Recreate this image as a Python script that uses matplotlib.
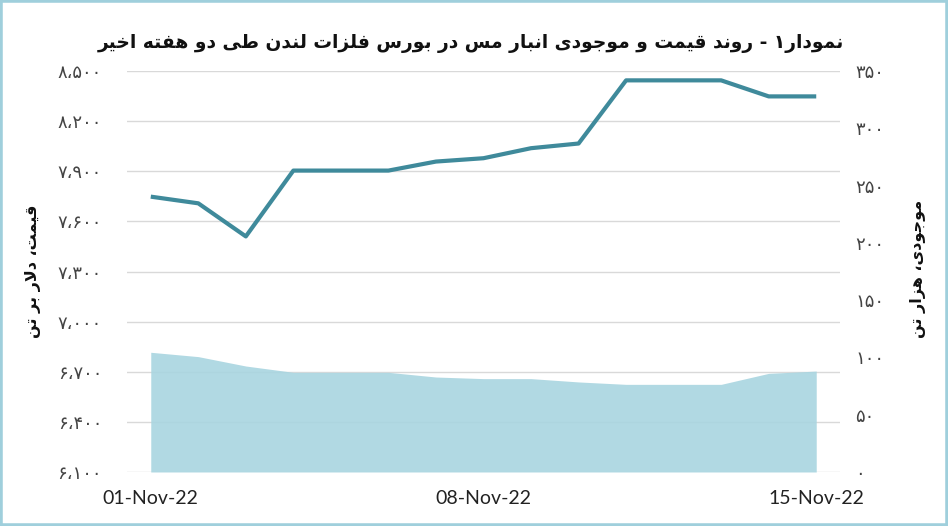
import matplotlib
matplotlib.use('Agg')
import matplotlib.pyplot as plt
from matplotlib.patches import Rectangle
from matplotlib.ticker import FixedLocator, FuncFormatter

# ---------------- data ----------------
dates = ['01-Nov-22', '02-Nov-22', '03-Nov-22', '04-Nov-22', '05-Nov-22',
         '06-Nov-22', '07-Nov-22', '08-Nov-22', '09-Nov-22', '10-Nov-22',
         '11-Nov-22', '12-Nov-22', '13-Nov-22', '14-Nov-22', '15-Nov-22']
price = [7748, 7708, 7510, 7904, 7904, 7904, 7958, 7978, 8038, 8066,
         8444, 8444, 8444, 8348, 8348]
stock = [104.5, 100.7, 92.5, 87, 87, 87, 82.9, 81.5, 81.5, 78.6,
         76.5, 76.5, 76.5, 86.1, 88.1]
shown_dates = ['01-Nov-22', '08-Nov-22', '15-Nov-22']
price_ticks = [6100, 6400, 6700, 7000, 7300, 7600, 7900, 8200, 8500]
stock_ticks = [0, 50, 100, 150, 200, 250, 300, 350]
title_text = 'نمودار۱ - روند قیمت و موجودی انبار مس در بورس فلزات لندن طی دو هفته اخیر'
left_label = 'قیمت، دلار بر تن'
right_label = 'موجودی، هزار تن'

# ------------- minimal Persian shaping (matplotlib has no text shaping) -------------
_PF = {
    'ا': (0xFE8D, 2), 'ب': (0xFE8F, 4), 'ت': (0xFE95, 4), 'ث': (0xFE99, 4),
    'ج': (0xFE9D, 4), 'ح': (0xFEA1, 4), 'خ': (0xFEA5, 4), 'د': (0xFEA9, 2),
    'ذ': (0xFEAB, 2), 'ر': (0xFEAD, 2), 'ز': (0xFEAF, 2), 'س': (0xFEB1, 4),
    'ش': (0xFEB5, 4), 'ص': (0xFEB9, 4), 'ض': (0xFEBD, 4), 'ط': (0xFEC1, 4),
    'ظ': (0xFEC5, 4), 'ع': (0xFEC9, 4), 'غ': (0xFECD, 4), 'ف': (0xFED1, 4),
    'ق': (0xFED5, 4), 'ل': (0xFEDD, 4), 'م': (0xFEE1, 4), 'ن': (0xFEE5, 4),
    'ه': (0xFEE9, 4), 'و': (0xFEED, 2), 'ی': (0xFBFC, 4), 'ک': (0xFB8E, 4),
    'گ': (0xFB92, 4), 'پ': (0xFB56, 4), 'چ': (0xFB7A, 4), 'ژ': (0xFB8A, 2),
}


def shape(s):
    items = []
    i = 0
    while i < len(s):
        if s[i] == 'ل' and i + 1 < len(s) and s[i + 1] == 'ا':
            items.append('LA')
            i += 2
        else:
            items.append(s[i])
            i += 1

    def joins(c):
        return c == 'LA' or c in _PF

    def dual(c):
        return c in _PF and _PF[c][1] == 4

    res = []
    for k, c in enumerate(items):
        prev = items[k - 1] if k > 0 else None
        nxt = items[k + 1] if k + 1 < len(items) else None
        jp = prev is not None and dual(prev) and joins(c)
        if c == 'LA':
            res.append('\uFEFC' if jp else '\uFEFB')
            continue
        if c not in _PF:
            res.append(c)
            continue
        base, n = _PF[c]
        jn = n == 4 and nxt is not None and joins(nxt)
        f = 3 if (jp and jn) else 1 if jp else 2 if jn else 0
        res.append(chr(base + f))
    return ''.join(reversed(res))


_FA = str.maketrans('0123456789', '۰۱۲۳۴۵۶۷۸۹')


def fa_num(v, pos=None):
    return f'{int(round(v)):,}'.replace(',', '،').translate(_FA)


# ---------------- figure ----------------
plt.rcParams['font.family'] = ['DejaVu Sans']
fig = plt.figure(figsize=(9.48, 5.26), dpi=100)
fig.patch.set_facecolor('white')

ax = fig.add_axes([127 / 948, 1 - 472 / 526, (840 - 127) / 948, (472 - 71) / 526])
ax2 = ax.twinx()

x = list(range(len(dates)))

# price line on left axis
ax.plot(x, price, color='#3f8a9b', lw=3.0, solid_capstyle='butt', zorder=3)
ax.set_ylim(price_ticks[0], price_ticks[-1])
ax.yaxis.set_major_locator(FixedLocator(price_ticks))
ax.yaxis.set_major_formatter(FuncFormatter(fa_num))
ax.grid(axis='y', color='#d9d9d9', lw=1.0)
ax.set_axisbelow(True)

# inventory area on right axis
ax2.fill_between(x, 0, stock, color='#a9d5e0', alpha=0.9, lw=0, zorder=1)
ax2.set_ylim(stock_ticks[0], stock_ticks[-1])
ax2.yaxis.set_major_locator(FixedLocator(stock_ticks))
ax2.yaxis.set_major_formatter(FuncFormatter(fa_num))

ax.set_xlim(-0.5, len(dates) - 0.5)
ax.xaxis.set_major_locator(FixedLocator([dates.index(d) for d in shown_dates]))
ax.set_xticklabels(shown_dates, fontfamily='Lato', fontsize=14, color='#222222')

for a in (ax, ax2):
    for sp in a.spines.values():
        sp.set_visible(False)
    a.tick_params(length=0)
ax.tick_params(axis='x', pad=13)
ax.tick_params(axis='y', labelsize=13, colors='#444444', pad=18)
ax2.tick_params(axis='y', labelsize=13, colors='#444444', pad=11)

# title and axis labels
fig.text(471 / 948, 0.918, shape(title_text), ha='center', va='center',
         fontsize=13.4, fontweight='bold', color='#111111')
fig.text(33 / 948, 1 - 271 / 526, shape(left_label), rotation=90, ha='center',
         va='center', fontsize=11.5, fontweight='bold', color='#111111')
fig.text(918 / 948, 1 - 269 / 526, shape(right_label), rotation=90, ha='center',
         va='center', fontsize=11.5, fontweight='bold', color='#111111')

# light blue frame
fig.patches.append(Rectangle((0, 0), 1, 1, transform=fig.transFigure, fill=False,
                             edgecolor='#9fcfdc', lw=4.0, zorder=10))

fig.savefig('out.png', dpi=100, facecolor='white')
